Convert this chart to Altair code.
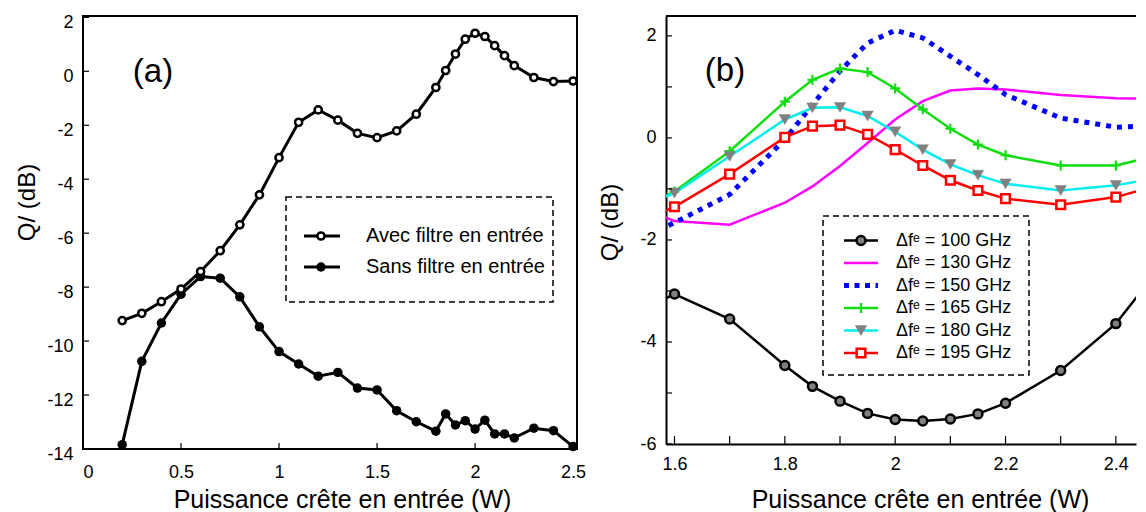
import altair as alt
import pandas as pd

FONT = "Liberation Sans"

# ---------------- panel (a) ----------------
a_x = [0.2, 0.3, 0.4, 0.5, 0.6, 0.7, 0.8, 0.9, 1.0, 1.1, 1.2, 1.3, 1.4, 1.5, 1.6, 1.7, 1.8,
       1.85, 1.9, 1.95, 2.0, 2.05, 2.1, 2.15, 2.2, 2.3, 2.4, 2.5]
a_avec = [-9.24, -8.97, -8.54, -8.07, -7.42, -6.65, -5.69, -4.58, -3.2, -1.89, -1.43, -1.81,
          -2.3, -2.46, -2.21, -1.59, -0.6, 0.03, 0.64, 1.19, 1.41, 1.29, 0.95, 0.58, 0.21,
          -0.23, -0.38, -0.36]
a_sans = [-13.84, -10.75, -9.33, -8.26, -7.61, -7.67, -8.36, -9.47, -10.39, -10.85, -11.3,
          -11.16, -11.74, -11.81, -12.58, -12.99, -13.34, -12.7, -13.11, -12.95, -13.26,
          -12.93, -13.44, -13.44, -13.59, -13.23, -13.32, -13.91]
a_xticks = [0, 0.5, 1, 1.5, 2, 2.5]
a_yticks = [-14, -12, -10, -8, -6, -4, -2, 0, 2]
a_names = ["Avec filtre en entrée", "Sans filtre en entrée"]

# ---------------- panel (b) ----------------
b_x = [1.5, 1.6, 1.7, 1.8, 1.85, 1.9, 1.95, 2.0, 2.05, 2.1, 2.15, 2.2, 2.3, 2.4, 2.5]
b_q100 = [-3.6, -3.06, -3.55, -4.46, -4.87, -5.16, -5.40, -5.52, -5.55, -5.51, -5.41, -5.20, -4.56, -3.64, -2.27]
b_q130 = [-1.2, -1.63, -1.70, -1.27, -0.95, -0.55, -0.10, 0.36, 0.72, 0.93, 0.97, 0.95, 0.84, 0.78, 0.76]
b_q150 = [-2.2, -1.66, -1.11, -0.03, 0.65, 1.31, 1.86, 2.11, 1.96, 1.60, 1.24, 0.85, 0.39, 0.21, 0.25]
b_q165 = [-1.6, -1.05, -0.26, 0.71, 1.14, 1.36, 1.29, 0.97, 0.56, 0.18, -0.13, -0.34, -0.54, -0.54, -0.28]
b_q180 = [-1.5, -1.08, -0.36, 0.36, 0.59, 0.60, 0.43, 0.12, -0.23, -0.52, -0.73, -0.90, -1.03, -0.93, -0.74]
b_q195 = [-1.8, -1.35, -0.71, 0.01, 0.23, 0.25, 0.07, -0.23, -0.54, -0.83, -1.03, -1.19, -1.31, -1.16, -0.86]
b_names = ["Δfᵉ = 100 GHz", "Δfᵉ = 130 GHz", "Δfᵉ = 150 GHz",
           "Δfᵉ = 165 GHz", "Δfᵉ = 180 GHz", "Δfᵉ = 195 GHz"]
b_xlabels = [1.6, 1.8, 2, 2.2, 2.4]
b_xticks = [1.6, 1.7, 1.8, 1.9, 2.0, 2.1, 2.2, 2.3, 2.4]
b_ylabels = [-6, -4, -2, 0, 2]
b_yticks = [-6, -5, -4, -3, -2, -1, 0, 1, 2]

XTITLE = "Puissance crête en entrée (W)"
YTITLE = "Q/ (dB)"

one = pd.DataFrame({"k": [0]})
PLUS = "M-1,0L1,0M0,-1L0,1"

# ---------------- panel (a) chart ----------------
AW, AH = 494, 433
AX = alt.X("x:Q", scale=alt.Scale(domain=[0, 2.52], nice=False, zero=False),
           axis=alt.Axis(values=a_xticks, labelExpr="datum.value + ''", ticks=False, domain=False,
                         grid=False, labelFont=FONT, labelFontSize=18, labelColor="black",
                         labelPadding=14, title=XTITLE, titleFont=FONT, titleFontSize=25,
                         titleFontWeight="normal", titleColor="black", titleX=259, titleY=50,
                         titleAlign="center", titleBaseline="middle"))
AY = alt.Y("q:Q", scale=alt.Scale(domain=[-14, 2.05], nice=False, zero=False),
           axis=alt.Axis(values=a_yticks, labelExpr="datum.value + ''", ticks=False, domain=False,
                         grid=False, labelFont=FONT, labelFontSize=18, labelColor="black",
                         labelPadding=10, labelOffset=5, title=YTITLE, titleFont=FONT,
                         titleFontSize=24, titleFontWeight="normal", titleColor="black",
                         titleX=-56, titleY=186, titleAlign="center", titleBaseline="middle"))

df_avec = pd.DataFrame({"x": a_x, "q": a_avec})
df_sans = pd.DataFrame({"x": a_x, "q": a_sans})

a_layers = []
for dfa in [df_sans, df_avec]:
    a_layers.append(alt.Chart(dfa).mark_line(color="black", strokeWidth=3).encode(x=AX, y=AY))
a_layers.append(alt.Chart(df_sans).mark_point(shape="circle", filled=True, color="black",
                                              size=90, opacity=1).encode(x=AX, y=AY))
a_layers.append(alt.Chart(df_avec).mark_point(shape="circle", fill="white", stroke="black",
                                              strokeWidth=2.5, size=52, opacity=1,
                                              fillOpacity=1).encode(x=AX, y=AY))
# inward ticks
a_layers.append(alt.Chart(pd.DataFrame({"x": a_xticks})).mark_rule(color="black", strokeWidth=1.2)
                .encode(x=AX, y=alt.value(AH - 6), y2=alt.value(AH)))
a_layers.append(alt.Chart(pd.DataFrame({"q": a_yticks})).mark_rule(color="black", strokeWidth=1.2)
                .encode(y=AY, x=alt.value(0), x2=alt.value(6)))
# legend (a)
a_layers.append(alt.Chart(one).mark_rect(fill="white", stroke="black", strokeWidth=1.5,
                                         strokeDash=[6, 4]).encode(
    x=alt.value(203), x2=alt.value(470), y=alt.value(181), y2=alt.value(286)))
for i, name in enumerate(a_names):
    yy = 220 + 31 * i
    a_layers.append(alt.Chart(one).mark_rule(color="black", strokeWidth=3).encode(
        x=alt.value(221), x2=alt.value(257), y=alt.value(yy)))
    if i == 0:
        a_layers.append(alt.Chart(one).mark_point(shape="circle", fill="white", stroke="black",
                                                  strokeWidth=2.5, size=52, opacity=1).encode(
            x=alt.value(238), y=alt.value(yy)))
    else:
        a_layers.append(alt.Chart(one).mark_point(shape="circle", filled=True, color="black",
                                                  size=90, opacity=1).encode(
            x=alt.value(238), y=alt.value(yy)))
    a_layers.append(alt.Chart(one).mark_text(text=name, align="left", baseline="middle",
                                             font=FONT, fontSize=20, color="black").encode(
        x=alt.value(283), y=alt.value(yy)))
a_layers.append(alt.Chart(one).mark_text(text="(a)", align="center", baseline="middle",
                                         font=FONT, fontSize=33, color="black").encode(
    x=alt.value(70), y=alt.value(56)))

left = alt.layer(*a_layers).properties(
    width=AW, height=AH, view=alt.ViewBackground(stroke="black", strokeWidth=2))

# ---------------- panel (b) chart ----------------
BW, BH = 470, 428
BX = alt.X("x:Q", scale=alt.Scale(domain=[1.5846, 2.4365], nice=False, zero=False),
           axis=alt.Axis(values=b_xlabels, labelExpr="datum.value + ''", ticks=False, domain=True,
                         domainColor="black", domainWidth=2,
                         grid=False, labelFont=FONT, labelFontSize=18, labelColor="black",
                         labelPadding=11, title=XTITLE, titleFont=FONT, titleFontSize=25,
                         titleFontWeight="normal", titleColor="black", titleX=254, titleY=55,
                         titleAlign="center", titleBaseline="middle"))
BY = alt.Y("q:Q", scale=alt.Scale(domain=[-6, 2.39], nice=False, zero=False),
           axis=alt.Axis(values=b_ylabels, labelExpr="datum.value + ''", ticks=False, domain=True,
                         domainColor="black", domainWidth=2,
                         grid=False, labelFont=FONT, labelFontSize=18, labelColor="black",
                         labelPadding=10, title=YTITLE, titleFont=FONT,
                         titleFontSize=24, titleFontWeight="normal", titleColor="black",
                         titleX=-56, titleY=206, titleAlign="center", titleBaseline="middle"))

b_vals = [b_q100, b_q130, b_q150, b_q165, b_q180, b_q195]
b_line_color = ["black", "#ff00ff", "#0000ff", "#11dd11", "#00eeee", "#ff0000"]
b_line_width = [2.5, 2.5, 5, 2.5, 2.5, 2.5]
b_line_dash = [None, None, [5, 6], None, None, None]
b_marker = [
    dict(shape="circle", fill="#808080", stroke="black", strokeWidth=2.5, size=80),
    None,
    None,
    dict(shape=PLUS, fill="transparent", stroke="#11dd11", strokeWidth=2.2, size=100),
    dict(shape="triangle-down", fill="#808080", stroke="#808080", strokeWidth=0.5, size=130),
    dict(shape="square", fill="white", stroke="#ff0000", strokeWidth=2.5, size=75),
]

b_layers = []
order = [1, 2, 3, 4, 5, 0]
for k in order:
    dfb = pd.DataFrame({"x": b_x, "q": b_vals[k]})
    lk = dict(color=b_line_color[k], strokeWidth=b_line_width[k], clip=True)
    if b_line_dash[k] is not None:
        lk["strokeDash"] = b_line_dash[k]
    b_layers.append(alt.Chart(dfb).mark_line(**lk).encode(x=BX, y=BY))
    if b_marker[k] is not None:
        b_layers.append(alt.Chart(dfb).mark_point(clip=True, opacity=1, fillOpacity=1,
                                                  **b_marker[k]).encode(x=BX, y=BY))
# inward ticks + top border
b_layers.append(alt.Chart(pd.DataFrame({"x": b_xticks})).mark_rule(color="black", strokeWidth=1.2)
                .encode(x=BX, y=alt.value(BH - 8), y2=alt.value(BH)))
b_layers.append(alt.Chart(pd.DataFrame({"q": b_yticks})).mark_rule(color="black", strokeWidth=1.2)
                .encode(y=BY, x=alt.value(0), x2=alt.value(6)))
b_layers.append(alt.Chart(one).mark_rule(color="black", strokeWidth=2).encode(
    x=alt.value(0), x2=alt.value(BW), y=alt.value(0)))
# legend (b)
b_layers.append(alt.Chart(one).mark_rect(fill="white", stroke="black", strokeWidth=1.5,
                                         strokeDash=[6, 4]).encode(
    x=alt.value(157), x2=alt.value(363), y=alt.value(200), y2=alt.value(359)))
for i, name in enumerate(b_names):
    yy = 224.5 + 22.5 * i
    rk = dict(color=b_line_color[i], strokeWidth=min(b_line_width[i], 4))
    if b_line_dash[i] is not None:
        rk["strokeDash"] = [5, 5.5]
        rk["strokeWidth"] = 5
    b_layers.append(alt.Chart(one).mark_rule(**rk).encode(
        x=alt.value(178), x2=alt.value(212), y=alt.value(yy)))
    if b_marker[i] is not None:
        b_layers.append(alt.Chart(one).mark_point(opacity=1, fillOpacity=1, **b_marker[i]).encode(
            x=alt.value(195), y=alt.value(yy)))
    b_layers.append(alt.Chart(one).mark_text(text=name, align="left", baseline="middle",
                                             font=FONT, fontSize=18, color="black").encode(
        x=alt.value(230), y=alt.value(yy)))
b_layers.append(alt.Chart(one).mark_text(text="(b)", align="center", baseline="middle",
                                         font=FONT, fontSize=33, color="black").encode(
    x=alt.value(59), y=alt.value(55)))

right = alt.layer(*b_layers).properties(
    width=BW, height=BH, view=alt.ViewBackground(stroke="transparent"))

chart = alt.hconcat(left, right, spacing=89, bounds="flush").properties(
    padding={"left": 6, "top": 4, "right": 0, "bottom": 0}
).configure_view(stroke="transparent")

chart.save("out.html", embed_options={"renderer": "svg", "actions": False})
